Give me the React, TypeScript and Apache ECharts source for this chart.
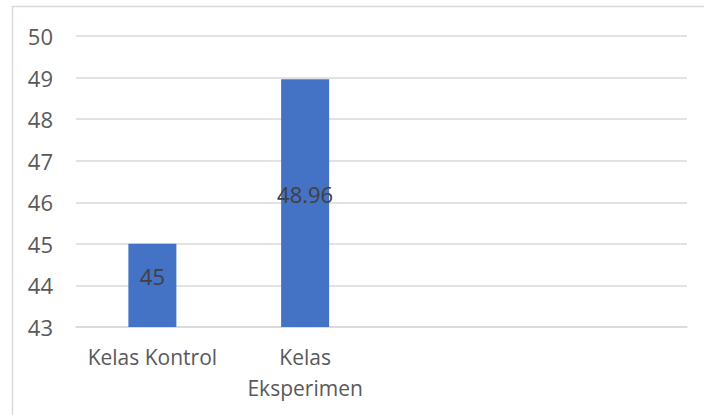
import React, { useEffect, useRef } from "react";
import * as echarts from "echarts";

const categories = ["Kelas Kontrol", "Kelas\nEksperimen", "", ""];
const values: (number | null)[] = [45, 48.96, null, null];
const yMin = 43;
const yMax = 50;
const yInterval = 1;

export default function App() {
  const ref = useRef<HTMLDivElement>(null);
  useEffect(() => {
    const chart = echarts.init(ref.current!, null, { renderer: "svg" });
    const font = "'Open Sans', 'Noto Sans', sans-serif";
    chart.setOption({
      animation: false,
      backgroundColor: "#ffffff",
      graphic: [
        {
          type: "rect",
          shape: { x: 12.5, y: 6.5, width: 760, height: 460 },
          style: { fill: "none", stroke: "#d9d9d9", lineWidth: 1.5 },
          silent: true,
        },
      ],
      grid: { left: 76, right: 17, top: 36, bottom: 88, containLabel: false },
      xAxis: {
        type: "category",
        data: categories,
        axisLine: { show: true, lineStyle: { color: "#d9d9d9", width: 1.5 } },
        axisTick: { show: false },
        axisLabel: {
          interval: 0,
          color: "#595959",
          fontFamily: font,
          fontSize: 21,
          lineHeight: 31,
          margin: 14,
        },
      },
      yAxis: {
        type: "value",
        min: yMin,
        max: yMax,
        interval: yInterval,
        axisLine: { show: false },
        axisTick: { show: false },
        splitLine: { lineStyle: { color: "#d9d9d9", width: 1.5 } },
        axisLabel: {
          color: "#595959",
          fontFamily: font,
          fontSize: 22,
          margin: 23,
        },
      },
      series: [
        {
          type: "bar",
          data: values,
          barWidth: 48,
          itemStyle: { color: "#4472C4" },
          label: {
            show: true,
            position: "inside",
            offset: [0, -9],
            color: "#404040",
            fontFamily: font,
            fontSize: 22,
          },
        },
      ],
    });
    return () => chart.dispose();
  }, []);
  return (
    <div
      ref={ref}
      style={{ position: "fixed", left: 0, top: 0, width: 704, height: 415 }}
    />
  );
}
